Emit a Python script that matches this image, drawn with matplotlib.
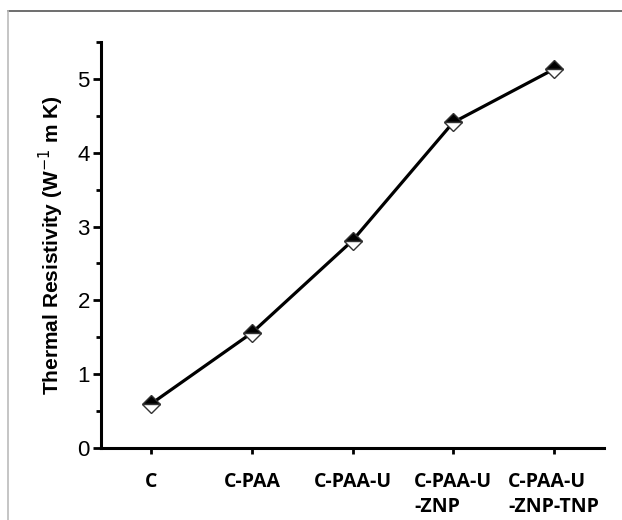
import matplotlib
matplotlib.use('Agg')
import matplotlib.pyplot as plt
from matplotlib.lines import Line2D

samples = ['C', 'C-PAA', 'C-PAA-U', 'C-PAA-U\n-ZNP', 'C-PAA-U\n-ZNP-TNP']
resistivity = [0.60, 1.56, 2.81, 4.41, 5.13]
yticks = [0, 1, 2, 3, 4, 5]

fig = plt.figure(figsize=(6.22, 5.2), dpi=100)

# grey frame around the picture (top and left edges)
fig.add_artist(Line2D([8 / 622, 1], [1 - 11 / 520, 1 - 11 / 520], color='#555555', lw=1.2))
fig.add_artist(Line2D([8 / 622, 8 / 622], [0, 1 - 11 / 520], color='#bbbbbb', lw=1.2))

ax = fig.add_axes([101 / 622, 72 / 520, 503 / 622, 406 / 520])
x = list(range(len(samples)))
ax.plot(x, resistivity, color='black', lw=2.3, marker='D', ms=9,
        fillstyle='top', markerfacecolor='black', markerfacecoloralt='white',
        markeredgecolor='#333333', markeredgewidth=1.0)

ax.set_xlim(-0.5, 4.5)
ax.set_ylim(0, 5.5)
for s in ['top', 'right']:
    ax.spines[s].set_visible(False)
for s in ['left', 'bottom']:
    ax.spines[s].set_linewidth(2.2)

ax.set_yticks(yticks)
ax.set_yticks([0.5, 1.5, 2.5, 3.5, 4.5, 5.5], minor=True)
ax.set_xticks(x)
ax.set_xticklabels(samples, fontfamily=['Open Sans', 'DejaVu Sans'],
                   fontweight='bold', fontsize=14, ha='center', multialignment='left',
                   linespacing=1.35)
ax.tick_params(axis='x', length=4, width=2, pad=13)
ax.tick_params(axis='y', which='major', length=6, width=2, pad=2,
               labelsize=16)
ax.tick_params(axis='y', which='minor', length=3.5, width=2)
for lab in ax.get_yticklabels():
    lab.set_fontfamily(['Liberation Sans Narrow', 'Liberation Sans', 'DejaVu Sans'])

ax.set_ylabel('Thermal Resistivity (W$^{-1}$ m K)', fontsize=15,
              fontweight='bold', fontfamily=['Liberation Sans', 'DejaVu Sans'],
              labelpad=8)

fig.savefig('out.png', dpi=100)
